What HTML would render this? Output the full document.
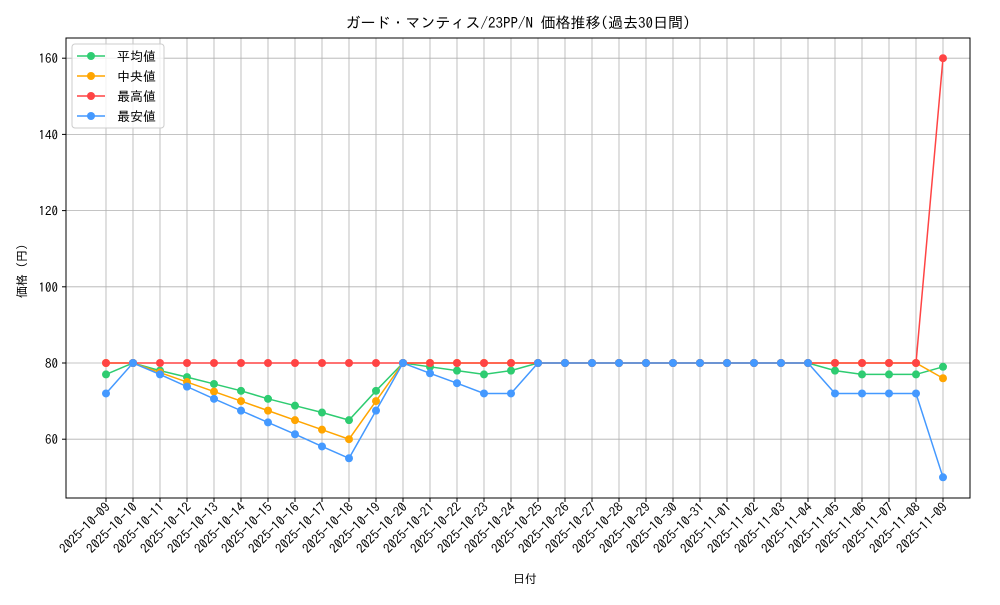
<!DOCTYPE html>
<html><head><meta charset="utf-8"><style>
body{margin:0;background:#fff;}
svg text{font-family:"IPAGothic","Noto Sans CJK JP",sans-serif;fill:#000;}
</style></head><body>
<svg id="s" width="1000" height="600" xmlns="http://www.w3.org/2000/svg">
<rect width="1000" height="600" fill="#fff"/>
<text x="518" y="28" font-size="15" text-anchor="middle">ガード・マンティス/23PP/N 価格推移(過去30日間)</text>
<g id="grid"></g>
<g id="series"></g>
<rect x="66" y="38" width="904" height="460" fill="none" stroke="#000" stroke-width="1"/>
<text x="525" y="583" font-size="12" text-anchor="middle">日付</text>
<text transform="translate(26,268) rotate(-90)" font-size="12" text-anchor="middle">価格（円）</text>
<g>
<rect x="72" y="44" width="92" height="84" fill="#fff" fill-opacity="0.8" stroke="#ccc" rx="3"/>
<line x1="77" y1="56" x2="105" y2="56" stroke="#2ecc71" stroke-width="1.5"/><circle cx="91" cy="56" r="4" fill="#2ecc71"/><text x="117" y="61" font-size="13">平均値</text>
<line x1="77" y1="76" x2="105" y2="76" stroke="#ffa500" stroke-width="1.5"/><circle cx="91" cy="76" r="4" fill="#ffa500"/><text x="117" y="81" font-size="13">中央値</text>
<line x1="77" y1="96" x2="105" y2="96" stroke="#ff4444" stroke-width="1.5"/><circle cx="91" cy="96" r="4" fill="#ff4444"/><text x="117" y="101" font-size="13">最高値</text>
<line x1="77" y1="116" x2="105" y2="116" stroke="#4499ff" stroke-width="1.5"/><circle cx="91" cy="116" r="4" fill="#4499ff"/><text x="117" y="121" font-size="13">最安値</text>
</g>
</svg>
<script>
var ns="http://www.w3.org/2000/svg";
function X(i){return 106+i*27;}
function Y(v){return 363-(v-80)*3.81;}
function el(t,a,p,txt){var e=document.createElementNS(ns,t);for(var k in a)e.setAttribute(k,a[k]);if(txt)e.textContent=txt;p.appendChild(e);return e;}
var g=document.getElementById('grid'),s=document.getElementById('series');
var labels=[];
for(var d=9;d<=31;d++)labels.push('2025-10-'+(d<10?'0'+d:d));
for(var d=1;d<=9;d++)labels.push('2025-11-0'+d);
for(var i=0;i<32;i++){var x=X(i);
el('line',{x1:x,y1:38,x2:x,y2:498,stroke:'#b0b0b0','stroke-width':0.8},g);
el('line',{x1:x,y1:498,x2:x,y2:502,stroke:'#000'},g);
el('text',{transform:'translate('+(x+5)+',508) rotate(-45)','font-size':'13','text-anchor':'end'},g,labels[i]);}
for(var v=60;v<=160;v+=20){var y=Y(v);
el('line',{x1:66,y1:y,x2:970,y2:y,stroke:'#b0b0b0','stroke-width':0.8},g);
el('line',{x1:62,y1:y,x2:66,y2:y,stroke:'#000'},g);
el('text',{x:58,y:y+5,'font-size':'13','text-anchor':'end'},g,String(v));}
var f80=function(n){var a=[];for(var i=0;i<n;i++)a.push(80);return a;};
var avg=[77,80,78,76.3,74.5,72.7,70.6,68.8,67,65,72.7,80,79,78,77,78].concat(f80(11)).concat([78,77,77,77,79]);
var med=[80,80,77.5,75,72.5,70,67.5,65,62.5,60,70].concat(f80(20)).concat([76]);
var max=f80(31).concat([160]);
var min=[72,80,77,73.8,70.6,67.5,64.4,61.3,58.1,55,67.5,80,77.3,74.7,72,72].concat(f80(11)).concat([72,72,72,72,50]);
[[avg,'#2ecc71'],[med,'#ffa500'],[max,'#ff4444'],[min,'#4499ff']].forEach(function(p){
var pts=p[0].map(function(v,i){return X(i)+','+Y(v);}).join(' ');
el('polyline',{points:pts,fill:'none',stroke:p[1],'stroke-width':1.5},s);
p[0].forEach(function(v,i){el('circle',{cx:X(i),cy:Y(v),r:4,fill:p[1]},s);});});
</script>
</body></html>
